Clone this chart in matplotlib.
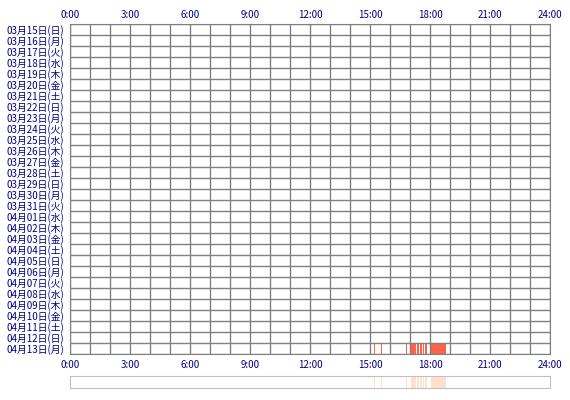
import matplotlib
matplotlib.use("Agg")
import matplotlib.pyplot as plt
import pandas as pd

plt.rcParams['font.family'] = ['Noto Sans CJK JP', 'DejaVu Sans']

# days shown (rows), 2020-03-15 .. 2020-04-13
days = pd.date_range("2020-03-15", "2020-04-13", freq="D")
weekdays = ["月", "火", "水", "木", "金", "土", "日"]
day_labels = [f"{d.month:02d}月{d.day:02d}日({weekdays[d.weekday()]})" for d in days]

hour_ticks = [0, 3, 6, 9, 12, 15, 18, 21, 24]
hour_labels = [f"{h}:00" for h in hour_ticks]

# activity on 04/13, minutes from midnight
act_day = "04月13日(月)"
act_start = [912, 933, 1008, 1023, 1041, 1050, 1059, 1066, 1083]
act_end = [915, 936, 1011, 1038, 1047, 1056, 1063, 1072, 1127]

navy = "#000080"
grid_c = "#808080"

fig = plt.figure(figsize=(5.7, 4.0), dpi=100)
ax = fig.add_axes([70/570, 1-354/400, 480/570, 330/400])

row = day_labels.index(act_day)
ax.broken_barh([(s, e - s) for s, e in zip(act_start, act_end)], (row, 1),
               facecolor="#ff6347", linewidth=0, antialiased=False, zorder=1)

ax.set_xlim(0, 1440)
ax.set_ylim(len(day_labels), 0)
ax.set_xticks([h * 60 for h in hour_ticks])
ax.set_xticklabels(hour_labels)
ax.set_xticks([m for m in range(0, 1441, 60) if m % 180], minor=True)
ax.set_yticks([i + 0.5 for i in range(len(day_labels))])
ax.set_yticklabels(day_labels)
ax.set_yticks(range(len(day_labels) + 1), minor=True)
ax.grid(True, axis="x", which="both", color=grid_c, lw=1, zorder=2)
ax.grid(True, axis="y", which="minor", color=grid_c, lw=1, zorder=2)
ax.set_axisbelow(False)
ax.tick_params(which="both", length=0)
ax.tick_params(axis="x", pad=4, labelsize=7, labelcolor=navy)
ax.tick_params(axis="y", pad=4, labelsize=7, labelcolor=navy)
for sp in ax.spines.values():
    sp.set_color(grid_c)

# same hour labels on top
top = ax.secondary_xaxis("top")
top.set_xticks([h * 60 for h in hour_ticks])
top.set_xticklabels(hour_labels)
top.tick_params(length=0, pad=3, labelsize=7, labelcolor=navy)
top.spines["top"].set_visible(False)

# overview strip
ax2 = fig.add_axes([70/570, 1-388/400, 480/570, 12/400])
ax2.broken_barh([(s, e - s) for s, e in zip(act_start, act_end)], (0, 1),
                facecolor="#ffe0cc", linewidth=0, antialiased=False)
ax2.set_xlim(0, 1440)
ax2.set_ylim(0, 1)
ax2.set_xticks([])
ax2.set_yticks([])
for sp in ax2.spines.values():
    sp.set_color("#c0c0c0")

fig.savefig("out.png", dpi=100)
